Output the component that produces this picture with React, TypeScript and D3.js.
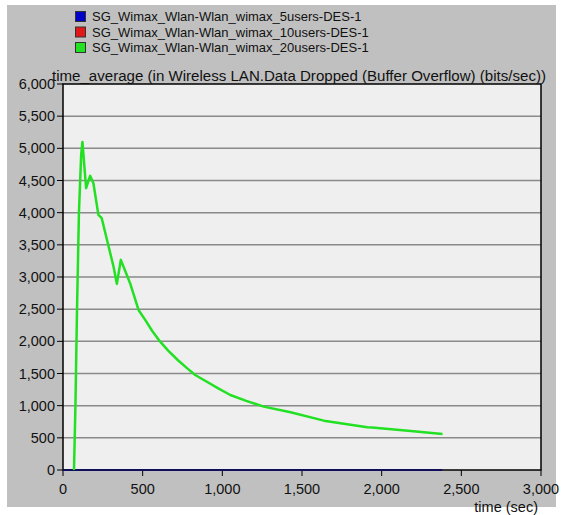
import { useEffect, useRef } from 'react'
import * as d3 from 'd3'

const seriesNames = [
  'SG_Wimax_Wlan-Wlan_wimax_5users-DES-1',
  'SG_Wimax_Wlan-Wlan_wimax_10users-DES-1',
  'SG_Wimax_Wlan-Wlan_wimax_20users-DES-1',
]
const seriesColors = ['#0000c8', '#e01818', '#22e022']

// 5 and 10 users: flat zero (10 users hidden under 5 users)
const flatTimes = [0, 2382]
const flatValues = [0, 0]

// 20 users
const greenTimes = [69, 78, 88, 100, 114, 122, 145, 170, 191, 222, 243, 317, 338, 363, 421, 474, 516, 560, 610, 660, 720, 780, 830, 900, 980, 1050, 1150, 1260, 1428, 1637, 1910, 1940, 2182, 2382]
const greenValues = [0, 1000, 2500, 4000, 4900, 5100, 4380, 4572, 4458, 3965, 3914, 3162, 2893, 3266, 2903, 2488, 2333, 2160, 1995, 1855, 1710, 1580, 1477, 1375, 1260, 1166, 1075, 985, 897, 767, 664, 660, 607, 560]

const yTicks = [0, 500, 1000, 1500, 2000, 2500, 3000, 3500, 4000, 4500, 5000, 5500, 6000]
const xTicks = [0, 500, 1000, 1500, 2000, 2500, 3000]

const title = 'time_average (in Wireless LAN.Data Dropped (Buffer Overflow) (bits/sec))'
const xLabel = 'time (sec)'

export default function App() {
  const ref = useRef<SVGSVGElement>(null)

  useEffect(() => {
    const width = 562
    const height = 515
    const m = { left: 63, right: 541, top: 84, bottom: 470 }
    const font = 'Arial, "Liberation Sans", sans-serif'

    const svg = d3.select(ref.current)
    svg.selectAll('*').remove()

    svg.append('rect').attr('width', width).attr('height', height).attr('fill', '#ffffff')
    svg.append('rect').attr('x', 7).attr('y', 5).attr('width', 549).attr('height', 502).attr('fill', '#c0c0c0')

    const x = d3.scaleLinear().domain([0, 3000]).range([m.left, m.right])
    const y = d3.scaleLinear().domain([0, 6000]).range([m.bottom, m.top])

    svg.append('rect')
      .attr('x', m.left).attr('y', m.top)
      .attr('width', m.right - m.left).attr('height', m.bottom - m.top)
      .attr('fill', '#efefef')

    // grid
    svg.append('g').selectAll('line')
      .data(yTicks.filter(d => d > 0 && d < 6000))
      .join('line')
      .attr('x1', m.left).attr('x2', m.right)
      .attr('y1', d => y(d)).attr('y2', d => y(d))
      .attr('stroke', '#8a8a8a').attr('stroke-width', 1.5)

    // frame
    svg.append('rect')
      .attr('x', m.left).attr('y', m.top)
      .attr('width', m.right - m.left).attr('height', m.bottom - m.top)
      .attr('fill', 'none').attr('stroke', '#000').attr('stroke-width', 1.5)

    // y axis
    const ya = svg.append('g')
    ya.selectAll('line').data(yTicks).join('line')
      .attr('x1', m.left - 6).attr('x2', m.left)
      .attr('y1', d => y(d)).attr('y2', d => y(d))
      .attr('stroke', '#000')
    ya.selectAll('text').data(yTicks).join('text')
      .attr('x', m.left - 8).attr('y', d => y(d) + 5)
      .attr('text-anchor', 'end')
      .style('font-family', font).style('font-size', '14.5px').style('fill', '#111')
      .text(d => d3.format(',')(d))

    // x axis
    const xa = svg.append('g')
    xa.selectAll('line').data(xTicks).join('line')
      .attr('x1', d => x(d)).attr('x2', d => x(d))
      .attr('y1', m.bottom).attr('y2', m.bottom + 6)
      .attr('stroke', '#000')
    xa.selectAll('text').data(xTicks).join('text')
      .attr('x', d => x(d)).attr('y', m.bottom + 24)
      .attr('text-anchor', 'middle')
      .style('font-family', font).style('font-size', '14.5px').style('fill', '#111')
      .text(d => d3.format(',')(d))

    svg.append('text')
      .attr('x', 538).attr('y', 512)
      .attr('text-anchor', 'end')
      .style('font-family', font).style('font-size', '14.5px').style('fill', '#111')
      .text(xLabel)

    svg.append('text')
      .attr('x', 52).attr('y', 81)
      .attr('textLength', 494).attr('lengthAdjust', 'spacingAndGlyphs')
      .style('font-family', font).style('font-size', '14px').style('fill', '#111')
      .text(title)

    const line = d3.line<[number, number]>().x(d => x(d[0])).y(d => y(d[1]))

    const flat = flatTimes.map((t, i) => [t, flatValues[i]] as [number, number])
    const green = greenTimes.map((t, i) => [t, greenValues[i]] as [number, number])

    svg.append('path').datum(flat).attr('d', line)
      .attr('fill', 'none').attr('stroke', seriesColors[1]).attr('stroke-width', 2)
    svg.append('path').datum(flat).attr('d', line)
      .attr('fill', 'none').attr('stroke', '#10105a').attr('stroke-width', 2)
    svg.append('path').datum(green).attr('d', line)
      .attr('fill', 'none').attr('stroke', seriesColors[2]).attr('stroke-width', 2.5)
      .attr('stroke-linejoin', 'round')

    // legend
    const lg = svg.append('g')
    seriesNames.forEach((name, i) => {
      const g = lg.append('g').attr('transform', `translate(75, ${11 + i * 15.5})`)
      g.append('rect').attr('x', 0.5).attr('y', 0.5).attr('width', 10).attr('height', 10)
        .attr('fill', seriesColors[i]).attr('stroke', '#333').attr('stroke-width', 1)
      g.append('text').attr('x', 17).attr('y', 10)
        .style('font-family', font).style('font-size', '13px').style('fill', '#111')
        .text(name)
    })
  }, [])

  return <svg ref={ref} width={562} height={515} style={{ position: 'absolute', left: 0, top: 0 }} />
}
